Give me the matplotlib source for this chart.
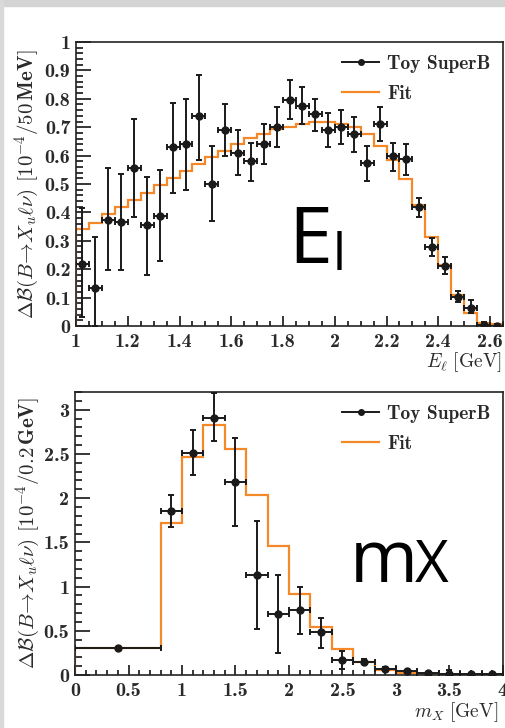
import numpy as np
import matplotlib
matplotlib.use("Agg")
import matplotlib.pyplot as plt
from matplotlib.lines import Line2D
from matplotlib.patches import Rectangle
from matplotlib.ticker import MultipleLocator, FuncFormatter

# ---- lepton energy spectrum (50 MeV bins) ----
el_edges = np.round(np.arange(1.0, 2.651, 0.05), 3)
el_centers = (el_edges[:-1] + el_edges[1:]) / 2
el_data = [0.22, 0.133, 0.373, 0.367, 0.558, 0.356, 0.387, 0.63, 0.64, 0.74,
           0.50, 0.69, 0.61, 0.58, 0.64, 0.70, 0.795, 0.775, 0.745, 0.69,
           0.70, 0.677, 0.573, 0.71, 0.597, 0.587, 0.418, 0.279, 0.211, 0.103,
           0.064, 0.003, 0.0]
el_err_lo = [0.19, 0.133, 0.176, 0.17, 0.173, 0.176, 0.157, 0.16, 0.16, 0.155,
             0.13, 0.09, 0.08, 0.07, 0.07, 0.07, 0.065, 0.065, 0.06, 0.06,
             0.06, 0.065, 0.062, 0.06, 0.05, 0.055, 0.035, 0.033, 0.027, 0.02,
             0.018, 0.003, 0.0]
el_err_hi = [0.195, 0.18, 0.182, 0.168, 0.172, 0.167, 0.162, 0.155, 0.16, 0.145,
             0.133, 0.09, 0.08, 0.065, 0.07, 0.07, 0.07, 0.065, 0.055, 0.06,
             0.06, 0.058, 0.062, 0.06, 0.048, 0.053, 0.033, 0.031, 0.032, 0.022,
             0.026, 0.01, 0.008]
el_fit = [0.34, 0.364, 0.393, 0.418, 0.444, 0.47, 0.496, 0.521, 0.547, 0.57,
          0.594, 0.616, 0.64, 0.661, 0.675, 0.693, 0.70, 0.711, 0.72, 0.72,
          0.711, 0.70, 0.675, 0.634, 0.585, 0.516, 0.426, 0.314, 0.215, 0.11,
          0.045, 0.012, 0.006]

# ---- hadronic mass spectrum ----
mx_edges = [0.0, 0.8, 1.0, 1.2, 1.4, 1.6, 1.8, 2.0, 2.2, 2.4, 2.6, 2.8, 3.0,
            3.2, 3.4, 3.6, 3.8, 4.0]
mx_centers = [0.4, 0.9, 1.1, 1.3, 1.5, 1.7, 1.9, 2.1, 2.3, 2.5, 2.7, 2.9, 3.1,
              3.3, 3.5, 3.7, 3.9]
mx_xerr = [0.4] + [0.1] * 16
mx_data = [0.30, 1.85, 2.51, 2.91, 2.18, 1.13, 0.69, 0.73, 0.49, 0.17, 0.15,
           0.065, 0.05, 0.025, 0.01, 0.01, 0.01]
mx_err_lo = [0.0, 0.18, 0.25, 0.26, 0.50, 0.61, 0.44, 0.27, 0.18, 0.10, 0.03,
             0.02, 0.0, 0.0, 0.0, 0.0, 0.0]
mx_err_hi = [0.0, 0.18, 0.26, 0.28, 0.50, 0.61, 0.44, 0.27, 0.16, 0.10, 0.03,
             0.02, 0.0, 0.0, 0.05, 0.0, 0.0]
mx_fit = [0.30, 1.72, 2.47, 2.83, 2.56, 2.03, 1.46, 0.92, 0.545, 0.29, 0.15,
          0.06, 0.02, 0.005, 0.003, 0.002, 0.001]

ORANGE = "#f5892a"
TICKFONT = "cmb10"
TXT = "#2a2a2a"
plt.rcParams["axes.unicode_minus"] = False

fig = plt.figure(figsize=(5.06, 7.28), dpi=100)
fig.patch.set_facecolor("white")
# grey slide border from the screenshot
fig.patches.append(Rectangle((0, 1 - 6 / 728), 1, 6 / 728, transform=fig.transFigure,
                             color="#d4d4d4", zorder=0))
fig.patches.append(Rectangle((0, 0), 3 / 506, 1, transform=fig.transFigure,
                             color="#d9d9d9", zorder=0))

ax1 = fig.add_axes([76 / 506, 1 - 326 / 728, 427 / 506, 284 / 728])
ax2 = fig.add_axes([75 / 506, 1 - 675 / 728, 428 / 506, 283 / 728])

fmt = FuncFormatter(lambda v, p: "%g" % round(v, 3))


def style_axes(ax, xmaj, xmin, ymaj, ymin):
    ax.xaxis.set_major_locator(MultipleLocator(xmaj))
    ax.xaxis.set_minor_locator(MultipleLocator(xmin))
    ax.yaxis.set_major_locator(MultipleLocator(ymaj))
    ax.yaxis.set_minor_locator(MultipleLocator(ymin))
    ax.xaxis.set_major_formatter(fmt)
    ax.yaxis.set_major_formatter(fmt)
    ax.tick_params(axis="x", which="major", direction="in", length=7, width=1.1, pad=5)
    ax.tick_params(axis="x", which="minor", direction="in", length=3.5, width=1.1)
    ax.tick_params(axis="y", which="major", direction="in", length=11, width=1.1, pad=4)
    ax.tick_params(axis="y", which="minor", direction="in", length=5, width=1.1)
    for lab in ax.get_xticklabels() + ax.get_yticklabels():
        lab.set_fontfamily(TICKFONT)
        lab.set_fontsize(14.5)
        lab.set_color(TXT)
    for s in ax.spines.values():
        s.set_linewidth(1.2)
        s.set_color("#222222")


# top panel: E_l
ax1.stairs(el_fit, el_edges, color=ORANGE, lw=1.6, zorder=2)
ax1.errorbar(el_centers, el_data, xerr=0.025, yerr=[el_err_lo, el_err_hi],
             fmt="o", color="#1a1a1a", ms=5, elinewidth=1.4, capsize=2.5,
             capthick=1.4, zorder=3)
ax1.set_xlim(1.0, 2.65)
ax1.set_ylim(0, 1.0)
style_axes(ax1, 0.2, 0.05, 0.1, 0.02)
ax1.set_ylabel(r"$\mathbf{\Delta}\mathcal{B}(B\!\rightarrow\!X_u\ell\nu)\ \mathbf{[10^{-4}/50\,MeV]}$",
               fontsize=15, math_fontfamily="cm", color=TXT)
ax1.yaxis.set_label_coords(-0.082, 0.5)
ax1.text(0.998, -0.128, r"$E_\ell\ \mathrm{[GeV]}$", transform=ax1.transAxes,
         ha="right", va="center", fontsize=14, math_fontfamily="cm", color=TXT)

# bottom panel: m_X
ax2.stairs(mx_fit, mx_edges, color=ORANGE, lw=1.6, zorder=2)
ax2.errorbar(mx_centers, mx_data, xerr=mx_xerr, yerr=[mx_err_lo, mx_err_hi],
             fmt="o", color="#1a1a1a", ms=5, elinewidth=1.4, capsize=2.5,
             capthick=1.4, zorder=3)
ax2.set_xlim(0, 4)
ax2.set_ylim(0, 3.2)
style_axes(ax2, 0.5, 0.1, 0.5, 0.1)
ax2.set_ylabel(r"$\mathbf{\Delta}\mathcal{B}(B\!\rightarrow\!X_u\ell\nu)\ \mathbf{[10^{-4}/0.2\,GeV]}$",
               fontsize=15, math_fontfamily="cm", color=TXT)
ax2.yaxis.set_label_coords(-0.078, 0.5)
ax2.text(0.99, -0.13, r"$m_X\ \mathrm{[GeV]}$", transform=ax2.transAxes,
         ha="right", va="center", fontsize=14, math_fontfamily="cm", color=TXT)

# legends
handles = [Line2D([], [], color="#1a1a1a", marker="o", ms=4, lw=1.4),
           Line2D([], [], color=ORANGE, lw=1.6)]
for ax in (ax1, ax2):
    ax.legend(handles, ["Toy SuperB", "Fit"], loc="upper right", frameon=False,
              prop={"family": TICKFONT, "size": 14}, handlelength=1.9,
              handletextpad=0.4, labelspacing=0.62, borderaxespad=0.25,
              labelcolor=TXT)

# big slide annotations
fig.text(288 / 506, 1 - 263 / 728, "E", fontsize=57, family="Open Sans",
         ha="left", va="baseline")
fig.text(333 / 506, 1 - 270 / 728, "l", fontsize=37, family="Open Sans",
         ha="left", va="baseline")
fig.text(350 / 506, 1 - 582 / 728, "m", fontsize=53, family="Open Sans",
         ha="left", va="baseline")
fig.text(415 / 506, 1 - 582 / 728, "X", fontsize=42, family="Open Sans",
         ha="left", va="baseline")

fig.savefig("out.png", dpi=100, facecolor=fig.get_facecolor())
